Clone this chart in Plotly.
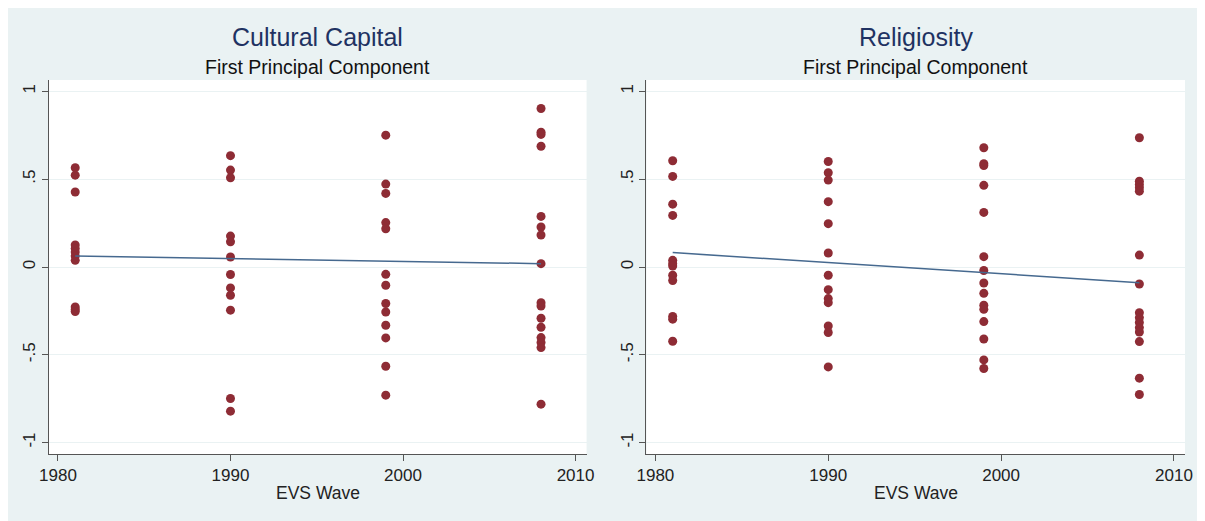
import plotly.graph_objects as go

# ---- data ----
waves = [1981, 1990, 1999, 2008]

cc_1981 = [0.565, 0.523, 0.427, 0.125, 0.105, 0.085, 0.062, 0.038, -0.228, -0.242, -0.254]
cc_1990 = [0.634, 0.552, 0.508, 0.176, 0.144, 0.057, -0.043, -0.119, -0.161, -0.246, -0.749, -0.821]
cc_1999 = [0.751, 0.472, 0.419, 0.253, 0.218, -0.042, -0.104, -0.208, -0.256, -0.332, -0.404, -0.565, -0.730]
cc_2008 = [0.903, 0.768, 0.755, 0.688, 0.288, 0.228, 0.182, 0.019, -0.203, -0.222, -0.292, -0.343,
           -0.402, -0.430, -0.459, -0.781]

rel_1981 = [0.605, 0.516, 0.358, 0.294, 0.038, 0.019, 0.006, -0.047, -0.077, -0.282, -0.297, -0.423]
rel_1990 = [0.601, 0.537, 0.495, 0.372, 0.247, 0.080, -0.047, -0.129, -0.180, -0.203, -0.336, -0.373, -0.569]
rel_1999 = [0.679, 0.588, 0.578, 0.465, 0.311, 0.059, -0.020, -0.091, -0.150, -0.218, -0.241, -0.311,
            -0.410, -0.529, -0.578]
rel_2008 = [0.736, 0.489, 0.470, 0.452, 0.432, 0.068, -0.097, -0.260, -0.288, -0.316, -0.345, -0.370,
            -0.425, -0.633, -0.726]

fit_waves = [1981, 2008]
fit_cc = [0.063, 0.019]
fit_rel = [0.082, -0.089]

panel_titles = ["Cultural Capital", "Religiosity"]
subtitle = "First Principal Component"
x_title = "EVS Wave"
x_ticks = [1980, 1990, 2000, 2010]
y_ticks = [-1, -0.5, 0, 0.5, 1]
y_ticktext = ["-1", "-.5", "0", ".5", "1"]

# ---- styling ----
BG = "#eaf2f3"
DOT = "#8e2c35"
LINE = "#46698f"
TITLE = "#1f3262"
FONT = "Liberation Sans, Arial, sans-serif"

OFF = 8  # page body margin
W, H = 1205 - OFF, 521 - OFF
ML, MR, MT, MB = 49 - OFF, 17, 80 - OFF, 67
PW = W - ML - MR
PH = H - MT - MB
left_dom = [0, (588 - 49) / PW]
right_dom = [(648 - 49) / PW, 1]


def flat(groups):
    xs, ys = [], []
    for w, vals in zip(waves, groups):
        xs += [w] * len(vals)
        ys += vals
    return xs, ys


fig = go.Figure()
panels = [
    ([cc_1981, cc_1990, cc_1999, cc_2008], fit_cc, "x", "y"),
    ([rel_1981, rel_1990, rel_1999, rel_2008], fit_rel, "x2", "y2"),
]
for groups, fit, xa, ya in panels:
    xs, ys = flat(groups)
    fig.add_trace(go.Scatter(x=xs, y=ys, mode="markers", xaxis=xa, yaxis=ya,
                             marker=dict(color=DOT, size=9, line=dict(width=0)),
                             showlegend=False, hoverinfo="skip"))
    fig.add_trace(go.Scatter(x=fit_waves, y=fit, mode="lines", xaxis=xa, yaxis=ya,
                             line=dict(color=LINE, width=1.5),
                             showlegend=False, hoverinfo="skip"))

xcommon = dict(range=[1979.48, 2010.64], tickmode="array", tickvals=x_ticks,
               showgrid=False, zeroline=False, showline=True, linecolor="#555555",
               linewidth=1, ticks="outside", ticklen=6, tickcolor="#555555",
               tickfont=dict(family=FONT, size=17, color="#222222"))
ycommon = dict(range=[-1.065, 1.065], tickmode="array", tickvals=y_ticks, ticktext=y_ticktext,
               showgrid=True, gridcolor=BG, gridwidth=1, zeroline=False, showline=True,
               linecolor="#555555", linewidth=1, ticks="outside", ticklen=6, tickcolor="#555555",
               tickangle=-90, tickfont=dict(family=FONT, size=17, color="#222222"))

fig.update_layout(
    width=W, height=H,
    margin=dict(l=ML, r=MR, t=MT, b=MB, pad=0),
    paper_bgcolor=BG, plot_bgcolor="white",
    xaxis=dict(domain=left_dom, anchor="y", **xcommon),
    yaxis=dict(domain=[0, 1], anchor="x", **ycommon),
    xaxis2=dict(domain=right_dom, anchor="y2", **xcommon),
    yaxis2=dict(domain=[0, 1], anchor="x2", **ycommon),
)


# screen pixel -> paper coords
def px_x(p):
    return (p - OFF - ML) / PW


def px_y(p):
    return (H - MB - (p - OFF)) / PH


# thin white strip at the right edge
fig.add_shape(type="rect", xref="paper", yref="paper",
              x0=px_x(1203), x1=px_x(1205 + 2), y0=px_y(H + OFF + 2), y1=px_y(0),
              fillcolor="white", line=dict(width=0), layer="below")

for dom, title in zip([left_dom, right_dom], panel_titles):
    cx = (dom[0] + dom[1]) / 2
    fig.add_annotation(x=cx, y=px_y(37), xref="paper", yref="paper", text=title,
                       showarrow=False, xanchor="center", yanchor="middle",
                       font=dict(family=FONT, size=25, color=TITLE))
    fig.add_annotation(x=cx, y=px_y(67), xref="paper", yref="paper", text=subtitle,
                       showarrow=False, xanchor="center", yanchor="middle",
                       font=dict(family=FONT, size=19.5, color="#111111"))
    fig.add_annotation(x=cx, y=px_y(493), xref="paper", yref="paper", text=x_title,
                       showarrow=False, xanchor="center", yanchor="middle",
                       font=dict(family=FONT, size=17.5, color="#222222"))

fig.write_html("out.html")
